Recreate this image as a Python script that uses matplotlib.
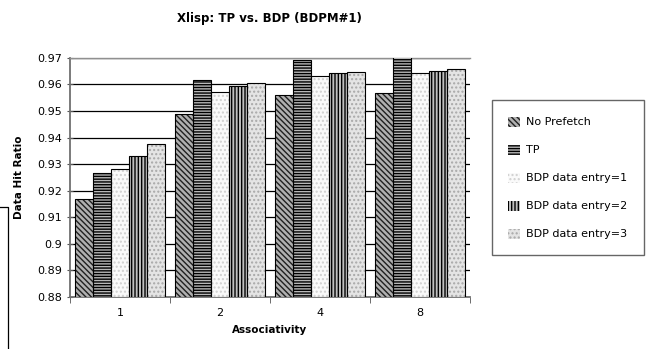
import matplotlib.pyplot as plt
import matplotlib.lines as mlines
import numpy as np

plt.rcParams['font.family'] = 'DejaVu Sans'
plt.rcParams['hatch.linewidth'] = 1.0

# data
categories = ['1', '2', '4', '8']
series_names = ['No Prefetch', 'TP', 'BDP data entry=1', 'BDP data entry=2', 'BDP data entry=3']
no_prefetch = [0.9167, 0.9488, 0.9559, 0.9569]
tp = [0.9267, 0.9617, 0.9691, 0.9710]
bdp1 = [0.9281, 0.9570, 0.9633, 0.9642]
bdp2 = [0.9329, 0.9594, 0.9642, 0.9652]
bdp3 = [0.9374, 0.9605, 0.9648, 0.9657]
all_series = [no_prefetch, tp, bdp1, bdp2, bdp3]

# fill, hatch, hatch colour per series
styles = [
    ('#b0b0b0', '\\\\\\\\\\\\', '#202020'),
    ('#b8b8b8', '------', 'black'),
    ('#fafafa', '....', '#d0d0d0'),
    ('#c0c0c0', '|||||', 'black'),
    ('#e4e4e4', '....', '#a8a8a8'),
]

fig = plt.figure(figsize=(6.49, 3.49), dpi=100)
ax = fig.add_axes([0.108, 0.150, 0.616, 0.684])

x = np.arange(len(categories))
w = 0.18
handles = []
for i, vals in enumerate(all_series):
    fc, hatch, hc = styles[i]
    pos = x + (i - 2) * w
    b = ax.bar(pos, np.array(vals) - 0.88, w, bottom=0.88, color=fc, hatch=hatch,
               edgecolor=hc, linewidth=0, zorder=3, label=series_names[i])
    ax.bar(pos, np.array(vals) - 0.88, w, bottom=0.88, fill=False,
           edgecolor='black', linewidth=0.8, zorder=4)
    handles.append(b)

ax.set_ylim(0.88, 0.97)
ax.set_xlim(-0.5, 3.5)
ax.set_yticks(np.arange(0.88, 0.9701, 0.01))
ax.set_yticklabels(['0.88', '0.89', '0.9', '0.91', '0.92', '0.93', '0.94', '0.95', '0.96', '0.97'])
ax.yaxis.grid(True, color='black', linewidth=0.9, zorder=0)
ax.set_axisbelow(True)

ax.set_xticks(x)
ax.set_xticklabels(categories)
ax.set_xticks(np.arange(-0.5, 3.6, 1), minor=True)
ax.tick_params(axis='x', which='major', length=0, pad=8, labelsize=8)
ax.tick_params(axis='x', which='minor', length=4, direction='out', color='#555555')
ax.tick_params(axis='y', length=4, direction='inout', labelsize=8, color='#555555', pad=4)

for s in ['left', 'bottom']:
    ax.spines[s].set_color('#707070')
    ax.spines[s].set_linewidth(1.3)
ax.spines['top'].set_color('#909090')
ax.spines['top'].set_linewidth(1.0)
ax.spines['right'].set_visible(False)

ax.set_xlabel('Associativity', fontsize=7.5, fontweight='bold', labelpad=5)
ax.set_ylabel('Data Hit Ratio', fontsize=7.5, fontweight='bold', labelpad=9)
fig.text(0.415, 0.948, 'Xlisp: TP vs. BDP (BDPM#1)', fontsize=8.5, fontweight='bold',
         ha='center', va='center')

leg = fig.legend(handles=handles, loc='upper left', bbox_to_anchor=(0.750, 0.728),
                 fontsize=8, frameon=True, fancybox=False, edgecolor='#404040',
                 handlelength=1.0, handleheight=1.0, handletextpad=0.6,
                 labelspacing=1.55, borderpad=1.45)
leg.get_frame().set_linewidth(1.0)

# stray border corner at the lower left of the original
fig.add_artist(mlines.Line2D([0, 8 / 649, 8 / 649], [1 - 207 / 349, 1 - 207 / 349, 0],
                             color='black', linewidth=0.9))

fig.savefig('out.png', dpi=100)
